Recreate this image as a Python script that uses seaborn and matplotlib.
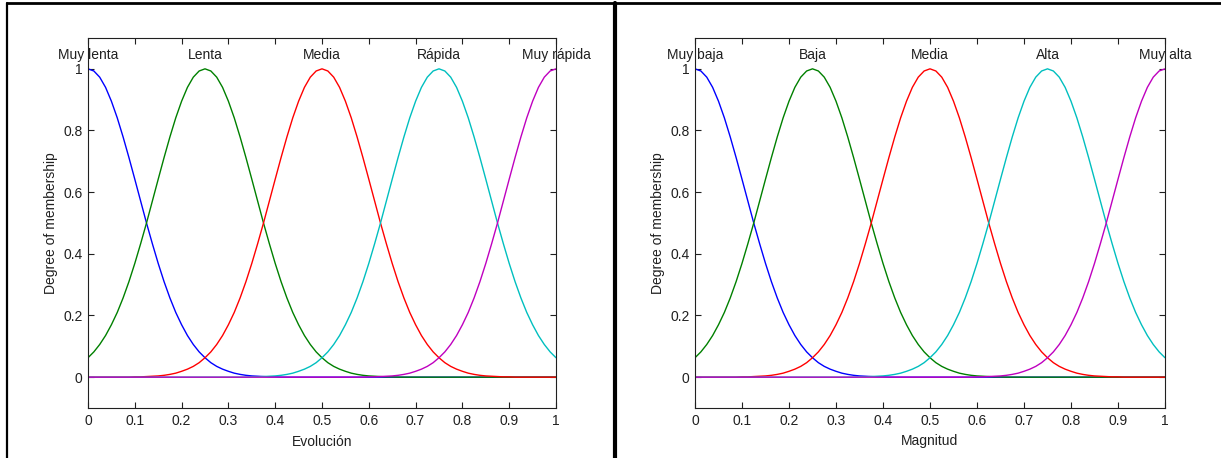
import numpy as np
import pandas as pd
import seaborn as sns
import matplotlib.pyplot as plt
from matplotlib.lines import Line2D

# x grid, step 0.0125 from 0 to 1
x_vals = [round(0.0125 * i, 4) for i in range(81)]

# membership grade read off the picture vs. distance from the MF centre
# (distance = 0.0125 * index)
profile = [1.000, 0.993, 0.973, 0.940, 0.895, 0.841, 0.779, 0.712, 0.642,
           0.571, 0.500, 0.433, 0.369, 0.310, 0.257, 0.210, 0.170, 0.135,
           0.106, 0.082, 0.063, 0.047, 0.035, 0.026, 0.019, 0.013, 0.009,
           0.006, 0.004, 0.003, 0.002, 0.001, 0.001] + [0.000] * 48

mf1 = profile[:81]
mf2 = profile[20:0:-1] + profile[:61]
mf3 = profile[40:0:-1] + profile[:41]
mf4 = mf2[::-1]
mf5 = mf1[::-1]

centers = [0, 0.25, 0.5, 0.75, 1]
left_labels = ["Muy lenta", "Lenta", "Media", "Rápida", "Muy rápida"]
right_labels = ["Muy baja", "Baja", "Media", "Alta", "Muy alta"]
mf_colors = ["#0000ff", "#008000", "#ff0000", "#00bfbf", "#bf00bf"]

sns.set_style("ticks")
plt.rcParams["font.family"] = ["Liberation Sans", "DejaVu Sans"]
plt.rcParams["font.size"] = 10

fig = plt.figure(figsize=(12.21, 4.58), dpi=100)
ax_l = fig.add_axes([88 / 1221, 1 - 408 / 458, 468 / 1221, 370 / 458])
ax_r = fig.add_axes([695 / 1221, 1 - 408 / 458, 470 / 1221, 370 / 458])


def draw_panel(ax, labels, xlabel):
    rows = []
    for name, vals in zip(labels, [mf1, mf2, mf3, mf4, mf5]):
        for xv, yv in zip(x_vals, vals):
            rows.append({"x": xv, "mu": yv, "mf": name})
    df = pd.DataFrame(rows)
    sns.lineplot(data=df, x="x", y="mu", hue="mf", hue_order=labels,
                 palette=mf_colors, estimator=None, sort=True, lw=1,
                 legend=False, ax=ax)
    for c, lab in zip(centers, labels):
        ax.text(c, 1.045, lab, ha="center", va="center", fontsize=10,
                color="#202020")
    ax.set_xlim(0, 1)
    ax.set_ylim(-0.1, 1.1)
    ax.set_xticks(np.arange(0, 1.01, 0.1))
    ax.set_xticklabels(["0", "0.1", "0.2", "0.3", "0.4", "0.5", "0.6",
                        "0.7", "0.8", "0.9", "1"])
    ax.set_yticks([0, 0.2, 0.4, 0.6, 0.8, 1])
    ax.set_yticklabels(["0", "0.2", "0.4", "0.6", "0.8", "1"])
    ax.tick_params(direction="in", length=4, width=0.8, top=True, right=True,
                   colors="#202020", labelsize=10, pad=4)
    for sp in ax.spines.values():
        sp.set_visible(True)
        sp.set_color("#202020")
        sp.set_linewidth(0.8)
    ax.set_xlabel(xlabel, fontsize=10, color="#202020", labelpad=5)
    ax.set_ylabel("Degree of membership", fontsize=10, color="#202020",
                  labelpad=4)


draw_panel(ax_l, left_labels, "Evolución")
draw_panel(ax_r, right_labels, "Magnitud")

# black frame around the two panels
fig.add_artist(Line2D([7 / 1221, 1], [1 - 3 / 458, 1 - 3 / 458],
                      transform=fig.transFigure, color="black", lw=2))
fig.add_artist(Line2D([7 / 1221, 7 / 1221], [0, 1 - 3 / 458],
                      transform=fig.transFigure, color="black", lw=1.6))
fig.add_artist(Line2D([614.5 / 1221, 614.5 / 1221], [0, 1 - 3 / 458],
                      transform=fig.transFigure, color="black", lw=3))

fig.savefig("out.png", dpi=100)
